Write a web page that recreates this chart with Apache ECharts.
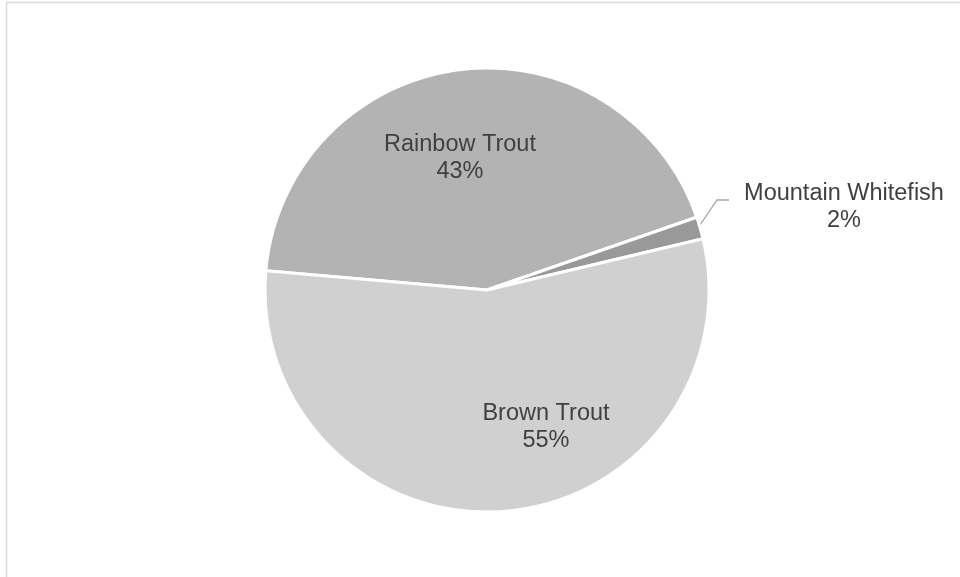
<!DOCTYPE html>
<html><head><meta charset="utf-8">
<script src="https://cdn.jsdelivr.net/npm/echarts@6/dist/echarts.min.js"></script>
<style>html,body{margin:0;padding:0;background:#fff}#c{width:960px;height:577px}</style>
</head><body><div id="c"></div>
<script>
const categories = ['Rainbow Trout', 'Mountain Whitefish', 'Brown Trout'];
const values = [43.3, 1.6, 55.1];
const colors = ['#b3b3b3', '#999999', '#d0d0d0'];

const chart = echarts.init(document.getElementById('c'), null, {renderer: 'canvas'});
const labelPlacement = {
  0: {x: 460, y: 158},
  1: {x: 844, y: 207, line: [[700, 225], [717, 200], [729, 200]]},
  2: {x: 546, y: 427}
};
chart.setOption({
  animation: false,
  graphic: [{
    type: 'rect', shape: {x: 6.5, y: 2.5, width: 1000, height: 1000},
    style: {fill: 'none', stroke: '#d9d9d9', lineWidth: 1.5}, silent: true
  }],
  series: [{
    type: 'pie',
    center: [487, 290],
    radius: [0, 222],
    startAngle: 175,
    clockwise: true,
    data: categories.map((c, i) => ({
      name: c, value: values[i],
      itemStyle: {color: colors[i]},
      label: {position: i === 1 ? 'outside' : 'inside'},
      labelLine: {show: i === 1}
    })),
    itemStyle: {borderColor: '#ffffff', borderWidth: 3},
    label: {
      show: true,
      formatter: p => p.name + '\n' + Math.round(p.percent) + '%',
      fontFamily: 'Liberation Sans, Arial, sans-serif',
      fontSize: 23.5,
      lineHeight: 27,
      color: '#404040',
      align: 'center'
    },
    labelLine: {lineStyle: {color: '#a6a6a6', width: 1.3}, length: 15, length2: 12},
    labelLayout: function (p) {
      const d = labelPlacement[p.dataIndex];
      const r = {x: d.x, y: d.y, align: 'center', verticalAlign: 'middle'};
      if (d.line) r.labelLinePoints = d.line;
      return r;
    },
    emphasis: {disabled: true}
  }]
});
</script>
</body></html>
